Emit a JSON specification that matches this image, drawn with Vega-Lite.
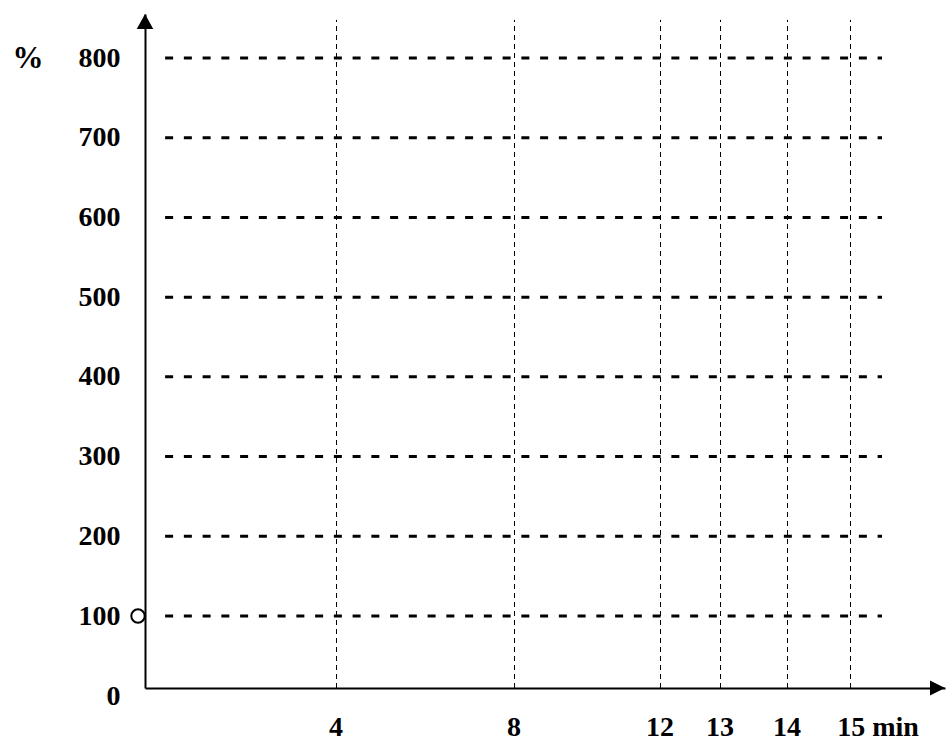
{
  "$schema": "https://vega.github.io/schema/vega-lite/v6.json",
  "width": 800,
  "height": 674,
  "autosize": {"type": "none"},
  "padding": {"left": 145, "top": 14, "right": 1, "bottom": 57},
  "background": "white",
  "config": {"view": {"stroke": null}},
  "datasets": {
    "hlines": [
      {"level": 100, "from": 0.42, "to": 15.5},
      {"level": 200, "from": 0.42, "to": 15.5},
      {"level": 300, "from": 0.42, "to": 15.5},
      {"level": 400, "from": 0.42, "to": 15.5},
      {"level": 500, "from": 0.42, "to": 15.5},
      {"level": 600, "from": 0.42, "to": 15.5},
      {"level": 700, "from": 0.42, "to": 15.5},
      {"level": 800, "from": 0.42, "to": 15.5}
    ],
    "vlines": [
      {"t": 4, "low": 0, "high": 852},
      {"t": 8, "low": 0, "high": 852},
      {"t": 12, "low": 0, "high": 852},
      {"t": 13, "low": 0, "high": 852},
      {"t": 14, "low": 0, "high": 852},
      {"t": 15, "low": 0, "high": 852}
    ],
    "start": [{"t": 0, "pct": 100}],
    "yarrow": [{"t": 0, "pct": 860}],
    "xarrow": [{"t": 16.5, "pct": 0}]
  },
  "encoding": {
    "x": {
      "type": "quantitative",
      "scale": {"domain": [0, 4, 8, 12, 13, 14, 15, 16.5], "range": [0, 191.5, 369.5, 515.5, 575.5, 642.5, 705.5, 800], "nice": false, "zero": false},
      "axis": {
        "values": [4, 8, 12, 13, 14, 15],
        "title": null,
        "grid": false,
        "ticks": false,
        "tickSize": 0,
        "domain": true,
        "domainColor": "black",
        "domainWidth": 2,
        "labelFont": "Liberation Serif",
        "labelFontWeight": "bold",
        "labelFontSize": 28,
        "labelColor": "black",
        "labelPadding": 25,
        "labelExpr": "datum.value == 15 ? '15 min' : datum.label",
        "labelOffset": {"condition": {"test": "datum.value == 15", "value": 27}, "value": -1}
      }
    },
    "y": {
      "type": "quantitative",
      "scale": {"domain": [0, 100, 800, 860], "range": [674, 602, 44, 0], "nice": false, "zero": false},
      "axis": {
        "values": [0, 100, 200, 300, 400, 500, 600, 700, 800],
        "title": "%",
        "titleAngle": 0,
        "titleX": -133,
        "titleY": 44,
        "titleAlign": "left",
        "titleBaseline": "middle",
        "titleFont": "Liberation Serif",
        "titleFontWeight": "bold",
        "titleFontSize": 31,
        "titleColor": "black",
        "grid": false,
        "ticks": false,
        "tickSize": 0,
        "domain": true,
        "domainColor": "black",
        "domainWidth": 2,
        "labelFont": "Liberation Serif",
        "labelFontWeight": "bold",
        "labelFontSize": 28,
        "labelColor": "black",
        "labelPadding": 25,
        "labelOffset": {"condition": {"test": "datum.value == 0", "value": 8}, "value": 0}
      }
    }
  },
  "layer": [
    {
      "data": {"name": "vlines"},
      "mark": {"type": "rule", "color": "black", "strokeWidth": 1, "strokeDash": [5, 4]},
      "encoding": {
        "x": {"field": "t"},
        "y": {"field": "low"},
        "y2": {"field": "high"}
      }
    },
    {
      "data": {"name": "hlines"},
      "mark": {"type": "rule", "color": "black", "strokeWidth": 3, "strokeDash": [8, 10.75]},
      "encoding": {
        "x": {"field": "from"},
        "x2": {"field": "to"},
        "y": {"field": "level"}
      }
    },
    {
      "data": {"name": "start"},
      "mark": {"type": "point", "shape": "circle", "size": 180, "filled": false, "fill": "white", "fillOpacity": 1, "stroke": "black", "strokeWidth": 2, "opacity": 1},
      "encoding": {
        "x": {"field": "t"},
        "y": {"field": "pct"},
        "xOffset": {"value": -7}
      }
    },
    {
      "data": {"name": "yarrow"},
      "mark": {"type": "point", "shape": "M0,0 L-0.55,1 L0.55,1 Z", "size": 900, "filled": true, "color": "black", "opacity": 1},
      "encoding": {
        "x": {"field": "t"},
        "y": {"field": "pct"}
      }
    },
    {
      "data": {"name": "xarrow"},
      "mark": {"type": "point", "shape": "M0,0 L-1,-0.5 L-1,0.5 Z", "size": 900, "filled": true, "color": "black", "opacity": 1},
      "encoding": {
        "x": {"field": "t"},
        "y": {"field": "pct"}
      }
    }
  ]
}
